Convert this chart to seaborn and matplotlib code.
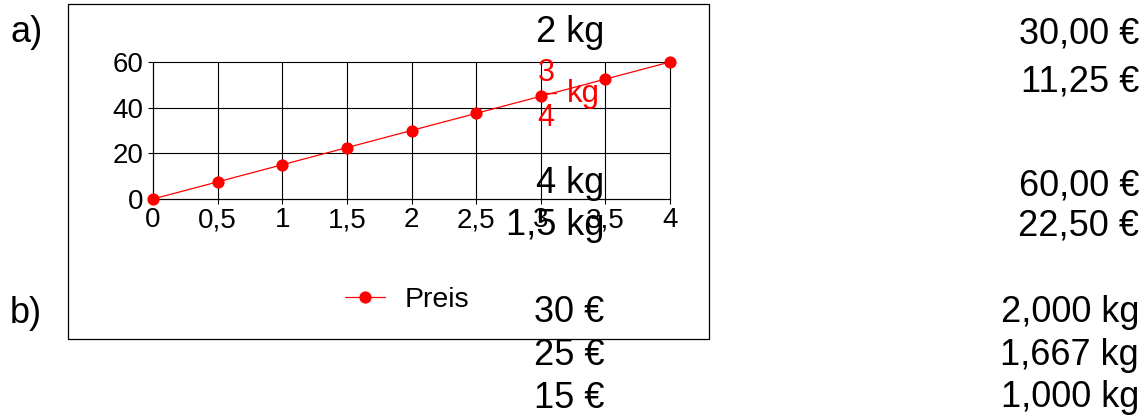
import matplotlib
matplotlib.use("Agg")
import matplotlib.pyplot as plt
import seaborn as sns
import pandas as pd
from matplotlib.patches import Rectangle
from matplotlib.lines import Line2D

# ---- data ----
menge_kg = [0, 0.5, 1, 1.5, 2, 2.5, 3, 3.5, 4]
preis_eur = [0, 7.5, 15, 22.5, 30, 37.5, 45, 52.5, 60]
x_tick_labels = ["0", "0,5", "1", "1,5", "2", "2,5", "3", "3,5", "4"]
y_ticks = [0, 20, 40, 60]
series_name = "Preis"

part_labels = ["a)", "b)"]
left_texts = ["2 kg", "4 kg", "1,5 kg", "30 €", "25 €", "15 €"]
right_texts = ["30,00 €", "11,25 €", "60,00 €", "22,50 €", "2,000 kg", "1,667 kg", "1,000 kg"]
frac_num, frac_den, frac_unit = "3", "4", "kg"

# ---- style ----
sns.set_theme(style="white")
plt.rcParams["font.family"] = ["Liberation Sans", "DejaVu Sans"]
plt.rcParams["text.color"] = "black"
plt.rcParams["xtick.color"] = "black"
plt.rcParams["ytick.color"] = "black"
plt.rcParams["axes.labelcolor"] = "black"

W, H = 1146, 417
fig = plt.figure(figsize=(W / 100, H / 100), dpi=100)

def P(x, y):
    return (x / W, 1 - y / H)

# outer chart frame
fig.add_artist(Rectangle(P(67.5, 339), (709 - 67.5) / W, (339 - 3.5) / H,
                         transform=fig.transFigure, fill=False,
                         edgecolor="black", linewidth=0.9))

ax = fig.add_axes([153 / W, 1 - 199 / H, (670 - 153) / W, (199 - 62) / H])
df = pd.DataFrame({"kg": menge_kg, "Preis": preis_eur})
sns.lineplot(data=df, x="kg", y="Preis", ax=ax, color="#ff0000", marker="o",
             markersize=8.8, markeredgewidth=0, linewidth=0.9, label=series_name)
for ln in ax.lines:
    ln.set_clip_on(False)
    ln.set_zorder(5)

ax.set_xlim(0, 4)
ax.set_ylim(0, 60)
ax.set_xticks(menge_kg)
ax.set_xticklabels(x_tick_labels)
ax.set_yticks(y_ticks)
ax.set_xlabel("")
ax.set_ylabel("")
ax.grid(True, color="black", linewidth=0.8)
ax.set_axisbelow(True)
for gl in ax.get_xgridlines() + ax.get_ygridlines():
    gl.set_clip_on(False)
for s in ["top", "right"]:
    ax.spines[s].set_visible(False)
for s in ["left", "bottom"]:
    ax.spines[s].set_color("black")
    ax.spines[s].set_linewidth(0.8)
ax.tick_params(axis="both", which="major", direction="out", length=3.6,
               width=0.8, color="black", labelsize=20, labelcolor="black",
               left=True, bottom=True)
ax.tick_params(axis="x", pad=2.5)
ax.tick_params(axis="y", pad=3.5)
ax.patch.set_alpha(0)

leg = ax.legend(loc="center left", bbox_to_anchor=P(345, 300),
                bbox_transform=fig.transFigure, frameon=False, fontsize=20.5,
                borderpad=0, borderaxespad=0, handlelength=1.4,
                handletextpad=0.68)
for t in leg.get_texts():
    t.set_color("black")

big = 26
fig.text(*P(10, 42), part_labels[0], fontsize=big, ha="left", va="baseline")
fig.text(*P(10, 323), part_labels[1], fontsize=big, ha="left", va="baseline")

left_baselines = [42, 193, 235, 322, 365, 408]
for t, yb in zip(left_texts, left_baselines):
    fig.text(*P(604, yb), t, fontsize=big, ha="right", va="baseline", zorder=10)

right_baselines = [43, 92, 195, 235, 322, 365, 407]
for t, yb in zip(right_texts, right_baselines):
    fig.text(*P(1139, yb), t, fontsize=big, ha="right", va="baseline")

red = "#ff0000"
fig.text(*P(546, 81), frac_num, fontsize=22, color=red, ha="center", va="baseline", zorder=10)
fig.text(*P(546, 126), frac_den, fontsize=22, color=red, ha="center", va="baseline", zorder=10)
fig.text(*P(567, 102), frac_unit, fontsize=22.5, color=red, ha="left", va="baseline", zorder=10)
fig.add_artist(Line2D([538 / W, 556 / W], [1 - 93 / H, 1 - 93 / H],
                      transform=fig.transFigure, color=red, linewidth=1.0))

fig.savefig("out.png", dpi=100)
